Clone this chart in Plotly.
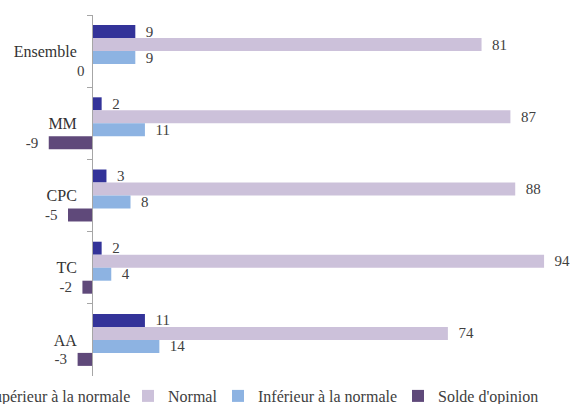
import plotly.graph_objects as go

categories = ["Ensemble", "MM", "CPC", "TC", "AA"]
series_names = ["Supérieur à la normale", "Normal", "Inférieur à la normale", "Solde d'opinion"]
superieur = [9, 2, 3, 2, 11]
normal = [81, 87, 88, 94, 74]
inferieur = [9, 11, 8, 4, 14]
solde = [0, -9, -5, -2, -3]
colors = ["#333399", "#CCC1DA", "#8DB3E2", "#5F497A"]

W, H = 571, 404
ML, MR, MT, MB = 30, 0, 15, 28
x_range = [-12.9, 99.6]
FONT = "Liberation Serif"
NB = "\u00a0\u00a0"
BARGAP = 0.28
LABEL_FONT = dict(family=FONT, size=15, color="#404040")

fig = go.Figure()
values = [superieur, normal, inferieur, solde]
legend_ids = ["legend", "legend2", "legend3", "legend4"]
n_tr = len(values)
bar_w = (1 - BARGAP) / n_tr
annotations = []
for k, (name, vals, col, lg) in enumerate(zip(series_names, values, colors, legend_ids)):
    labels = ["" if v == 0 else ((str(v) + NB) if v < 0 else (NB + str(v))) for v in vals]
    fig.add_trace(go.Bar(
        y=categories, x=vals, name=name, orientation="h",
        marker=dict(color=col, line=dict(width=0)),
        text=labels, textposition="outside", constraintext="none",
        textfont=LABEL_FONT, cliponaxis=False, legend=lg,
    ))
    # zero-length bars: label drawn to the left of the axis, as in the original
    offset = -(1 - BARGAP) / 2 + bar_w * (k + 0.5)
    for i, v in enumerate(vals):
        if v == 0:
            annotations.append(dict(
                x=v, y=i + offset, xref="x", yref="y", text=str(v),
                showarrow=False, xanchor="right", yanchor="middle", xshift=-5,
                font=LABEL_FONT,
            ))

pos = -x_range[0] / (x_range[1] - x_range[0])
plot_w = W - ML - MR

# legend text start positions (px)
legend_text_px = [-15, 168, 258, 438]
legend_y = 1 - 396 / H
legends = {}
for lg, tx in zip(legend_ids, legend_text_px):
    legends[lg] = dict(
        xref="paper", yref="container", x=(tx - 40 - ML) / plot_w, y=legend_y,
        xanchor="left", yanchor="middle", orientation="h",
        font=dict(family=FONT, size=16, color="#404040"),
        bgcolor="rgba(0,0,0,0)", borderwidth=0,
    )

fig.update_layout(
    width=W, height=H, showlegend=True,
    margin=dict(l=ML, r=MR, t=MT, b=MB, autoexpand=False),
    barmode="group", bargap=BARGAP, bargroupgap=0,
    plot_bgcolor="white", paper_bgcolor="white",
    font=dict(family=FONT, size=15, color="#404040"),
    xaxis=dict(range=x_range, visible=False, showgrid=False, zeroline=False),
    yaxis=dict(
        autorange="reversed", type="category", anchor="free", position=pos,
        showline=True, linecolor="#A6A6A6", linewidth=1,
        ticks="outside", tickson="boundaries", ticklen=5, tickcolor="#A6A6A6",
        ticklabelstandoff=12,
        tickfont=dict(family=FONT, size=16, color="#333333"),
        showgrid=False, zeroline=False,
    ),
    annotations=annotations,
    **legends,
)

fig.write_html(
    "out.html",
    config={"displayModeBar": False},
    post_script="document.body.style.margin='0';document.body.style.overflow='hidden';",
)
